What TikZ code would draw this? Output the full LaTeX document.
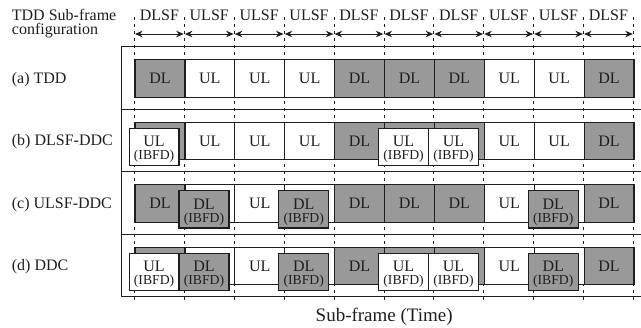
\documentclass[tikz,border=0pt]{standalone}
\usepackage{fontspec}
\setmainfont{Liberation Serif}
\usetikzlibrary{arrows.meta}
\definecolor{boxgray}{RGB}{153,153,153}
\definecolor{ink}{RGB}{30,30,30}
\newcommand\fs[1]{\fontsize{#1bp}{#1bp}\selectfont}
% regular sub-frame box: name, slot, row top, kind (DL/UL), text
\newcommand\slotbox[5]{%
  \node[sf,kind#4] (#1) at ({134.4+49.9*#2},#3) {#5};}
% IBFD box laid over a slot, shifted left and down: name, slot, row top, kind
\newcommand\ibfdbox[4]{%
  \node[sf,kind#4] (#1) at ({134.4+49.9*#2-5.9},{#3+5.8}) {};
  \node[word] (#1w) at (#1.center) {#4};
  \node[tag] (#1t) at ([yshift=-12.8bp]#1.center) {(IBFD)};}

\begin{document}
\begin{tikzpicture}[x=1bp,y=-1bp,
  sf/.style={draw=ink, line width=1.2bp, minimum width=49.9bp, minimum height=37.4bp,
             inner sep=0pt, font=\fs{16}, text=ink, anchor=north west},
  kindDL/.style={fill=boxgray},
  kindUL/.style={fill=white},
  word/.style={font=\fs{16}, text=ink, inner sep=0pt, anchor=base},
  tag/.style={font=\fs{13.7}, text=ink, inner sep=0pt, anchor=base},
  lbl/.style={font=\fs{16}, text=ink, inner sep=0pt},
  guide/.style={draw=ink, line width=0.7bp, dash pattern=on 3bp off 4bp},
  span/.style={draw=ink, line width=0.9bp, shorten <=0.6bp, shorten >=0.6bp,
               {Stealth[length=7.5bp,width=6.5bp]}-{Stealth[length=7.5bp,width=6.5bp]}},
  frame/.style={draw=ink, line width=1.5bp},
]
\useasboundingbox (0,0) rectangle (641,327);

% heading
\node[lbl, anchor=base west] (head1) at (11.7,20.2) {TDD Sub-frame};
\node[lbl, anchor=base west] (head2) at (11.7,34.8) {configuration};

% dashed slot boundaries and arrow ends
\foreach \i in {0,...,10} {
  \coordinate (gt\i) at ({134.4+49.9*\i},17);
  \coordinate (gb\i) at ({134.4+49.9*\i},302);
  \coordinate (ar\i) at ({134.4+49.9*\i},34);
  \draw[guide] (gt\i) -- (gb\i);
}
% slot types and spans
\foreach \t [count=\i from 0] in {DLSF,ULSF,ULSF,ULSF,DLSF,DLSF,DLSF,ULSF,ULSF,DLSF} {
  \pgfmathtruncatemacro\j{\i+1}
  \node[lbl, anchor=base] (sl\i) at ({134.4+49.9*\i+24.95},20.7) {\t};
  \draw[span] (ar\i) -- (ar\j);
}

% outer frame (open on the right) and row separators
\coordinate (fa) at (641,46.7);
\coordinate (fb) at (121.7,46.7);
\coordinate (fc) at (121.7,296.7);
\coordinate (fd) at (641,296.7);
\draw[frame] (fa) -- (fb) -- (fc) -- (fd);
\foreach \y [count=\k] in {109.3,171.7,234.3} {
  \coordinate (sa\k) at (121.7,\y);
  \coordinate (sb\k) at (641,\y);
  \draw[frame] (sa\k) -- (sb\k);
}

% row labels
\node[lbl, anchor=base west] (ra) at (11.7,83.4) {(a) TDD};
\node[lbl, anchor=base west] (rb) at (11.7,145.9) {(b) DLSF-DDC};
\node[lbl, anchor=base west] (rc) at (11.7,208.4) {(c) ULSF-DDC};
\node[lbl, anchor=base west] (rd) at (11.7,270.9) {(d) DDC};

% (a) TDD
\foreach \t [count=\i from 0] in {DL,UL,UL,UL,DL,DL,DL,UL,UL,DL}
  \slotbox{a\i}{\i}{59.2}{\t}{\t};

% (b) DLSF-DDC
\slotbox{b0}{0}{121.7}{DL}{}
\slotbox{b1}{1}{121.7}{UL}{UL}
\slotbox{b2}{2}{121.7}{UL}{UL}
\slotbox{b3}{3}{121.7}{UL}{UL}
\slotbox{b4}{4}{121.7}{DL}{DL}
\slotbox{b5}{5}{121.7}{DL}{}
\slotbox{b6}{6}{121.7}{DL}{}
\slotbox{b7}{7}{121.7}{UL}{UL}
\slotbox{b8}{8}{121.7}{UL}{UL}
\slotbox{b9}{9}{121.7}{DL}{DL}
\ibfdbox{bx0}{0}{121.7}{UL}
\ibfdbox{bx5}{5}{121.7}{UL}
\ibfdbox{bx6}{6}{121.7}{UL}

% (c) ULSF-DDC
\slotbox{c0}{0}{184.2}{DL}{DL}
\slotbox{c1}{1}{184.2}{UL}{}
\slotbox{c2}{2}{184.2}{UL}{UL}
\slotbox{c3}{3}{184.2}{UL}{}
\slotbox{c4}{4}{184.2}{DL}{DL}
\slotbox{c5}{5}{184.2}{DL}{DL}
\slotbox{c6}{6}{184.2}{DL}{DL}
\slotbox{c7}{7}{184.2}{UL}{UL}
\slotbox{c8}{8}{184.2}{UL}{}
\slotbox{c9}{9}{184.2}{DL}{DL}
\ibfdbox{cx1}{1}{184.2}{DL}
\ibfdbox{cx3}{3}{184.2}{DL}
\ibfdbox{cx8}{8}{184.2}{DL}

% (d) DDC
\slotbox{d0}{0}{246.7}{DL}{}
\slotbox{d1}{1}{246.7}{UL}{}
\slotbox{d2}{2}{246.7}{UL}{UL}
\slotbox{d3}{3}{246.7}{UL}{}
\slotbox{d4}{4}{246.7}{DL}{DL}
\slotbox{d5}{5}{246.7}{DL}{}
\slotbox{d6}{6}{246.7}{DL}{}
\slotbox{d7}{7}{246.7}{UL}{UL}
\slotbox{d8}{8}{246.7}{UL}{}
\slotbox{d9}{9}{246.7}{DL}{DL}
\ibfdbox{dx0}{0}{246.7}{UL}
\ibfdbox{dx1}{1}{246.7}{DL}
\ibfdbox{dx3}{3}{246.7}{DL}
\ibfdbox{dx5}{5}{246.7}{UL}
\ibfdbox{dx6}{6}{246.7}{UL}
\ibfdbox{dx8}{8}{246.7}{DL}

% time axis caption
\node[font=\fs{19}, text=ink, inner sep=0pt, anchor=base] (axis) at (384.2,321.7) {Sub-frame (Time)};
\end{tikzpicture}
\end{document}
